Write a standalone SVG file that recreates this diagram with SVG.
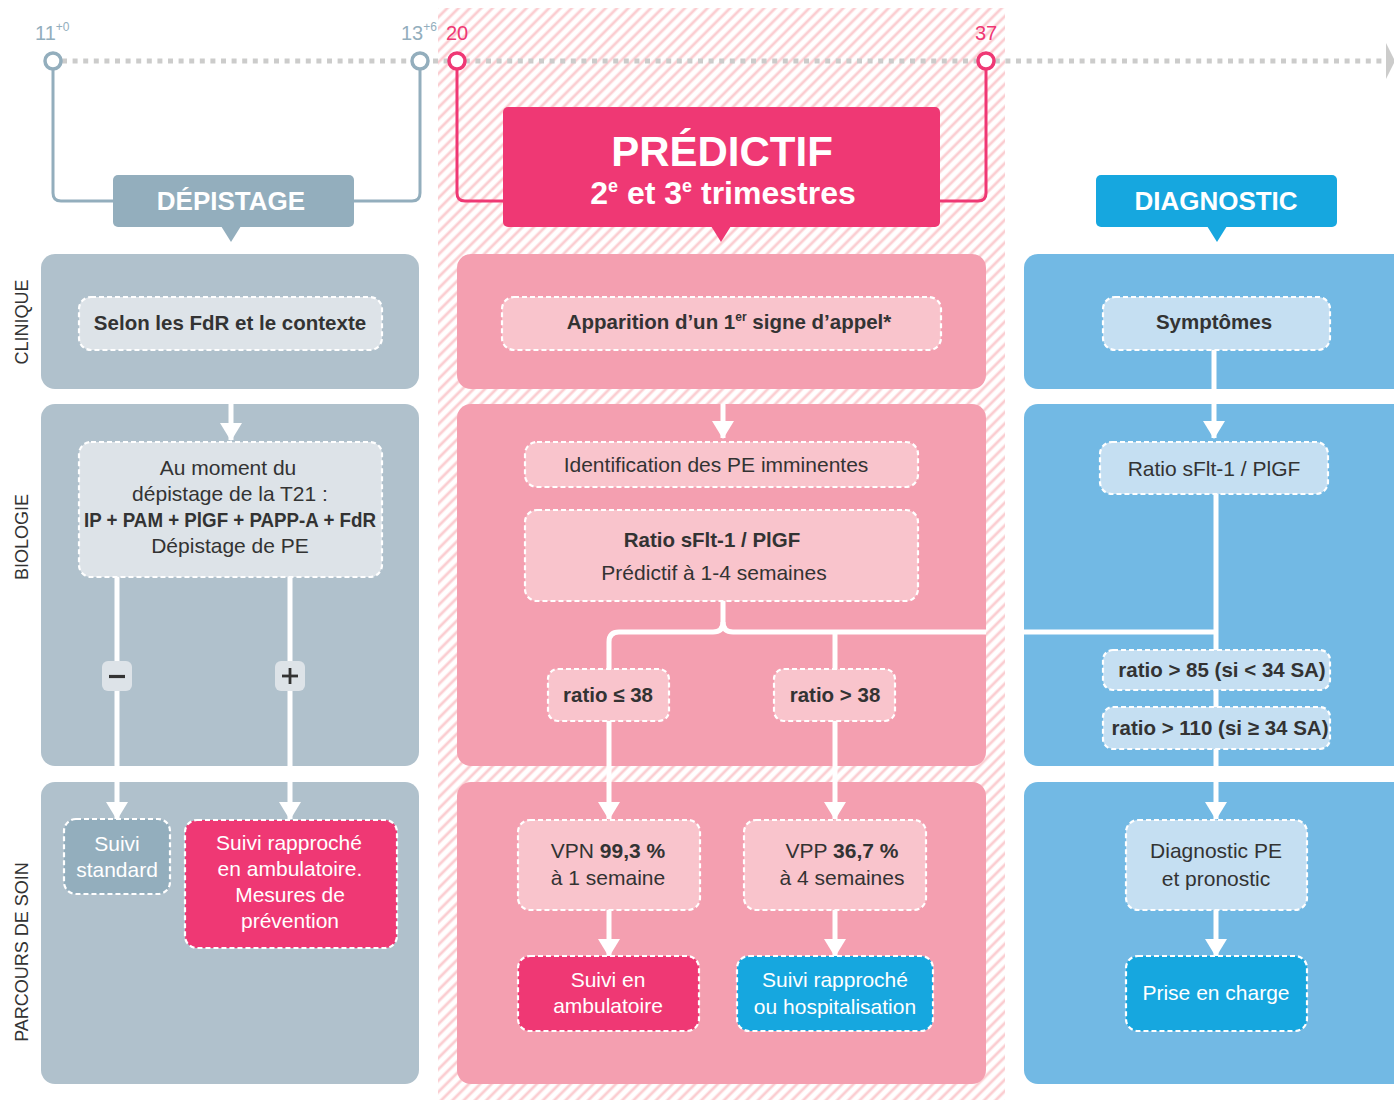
<svg xmlns="http://www.w3.org/2000/svg" width="1394" height="1100" viewBox="0 0 1394 1100">
<defs>
<pattern id="hatch" patternUnits="userSpaceOnUse" width="8" height="8" patternTransform="rotate(45)">
<rect width="8" height="8" fill="#ffffff"/>
<line x1="2" y1="0" x2="2" y2="8" stroke="#fbcdd1" stroke-width="2.8"/>
</pattern>
<marker id="ah" markerUnits="userSpaceOnUse" viewBox="0 0 18 22" refX="17" refY="11" markerWidth="18" markerHeight="22" orient="auto">
<path d="M0,0 L18,11 L0,22 z" fill="#ffffff"/>
</marker>
<marker id="tl" markerUnits="userSpaceOnUse" viewBox="0 0 9 36" refX="0" refY="18" markerWidth="9" markerHeight="36" orient="auto">
<path d="M0,0 L9,18 L0,36 z" fill="#cccccb"/>
</marker>
</defs>
<style>
text{font-family:"Liberation Sans",Arial,sans-serif;}
.reg{font-size:21px;fill:#333333;text-anchor:middle;}
.bld{font-size:20.5px;font-weight:bold;fill:#333333;text-anchor:middle;}
.wht{font-size:21px;fill:#ffffff;text-anchor:middle;}
.hdr{font-size:26px;font-weight:bold;fill:#ffffff;text-anchor:middle;}
.row{font-size:18px;fill:#333333;text-anchor:middle;}
.node{stroke:#ffffff;stroke-width:2.2;stroke-dasharray:5 3;}
.conn{fill:none;stroke:#ffffff;stroke-width:5;}
.tlg{fill:none;stroke:#93aebd;stroke-width:3;}
.tlp{fill:none;stroke:#ef3874;stroke-width:3;}
</style>
<rect width="1394" height="1100" fill="#ffffff"/>
<rect x="438" y="8" width="567" height="1092" fill="url(#hatch)"/>

<g id="timeline">
<line x1="62" y1="61" x2="1386" y2="61" stroke="#cccccb" stroke-width="5" stroke-dasharray="5 5.6" marker-end="url(#tl)"/>
<path class="tlg" d="M53,69 V193 Q53,201 61,201 H113"/>
<path class="tlg" d="M420,69 V193 Q420,201 412,201 H354"/>
<path class="tlp" d="M457,69 V193 Q457,201 465,201 H503"/>
<path class="tlp" d="M986,69 V193 Q986,201 978,201 H940"/>
<circle cx="53" cy="61" r="8" fill="#ffffff" stroke="#93aebd" stroke-width="3.5"/>
<circle cx="420" cy="61" r="8" fill="#ffffff" stroke="#93aebd" stroke-width="3.5"/>
<circle cx="457" cy="61" r="8" fill="#ffffff" stroke="#ef3874" stroke-width="3.5"/>
<circle cx="986" cy="61" r="8" fill="#ffffff" stroke="#ef3874" stroke-width="3.5"/>
<text x="35" y="40" font-size="20" fill="#93aebd">11<tspan font-size="12" dy="-9">+0</tspan></text>
<text x="401" y="40" font-size="20" fill="#93aebd">13<tspan font-size="12" dy="-9">+6</tspan></text>
<text x="446" y="40" font-size="20" fill="#ef3874">20</text>
<text x="975" y="40" font-size="20" fill="#ef3874">37</text>
</g>

<g id="header-depistage">
<rect x="113" y="175" width="241" height="52" rx="5" fill="#93aebd"/>
<polygon points="221,226 241,226 231,242" fill="#93aebd"/>
<text class="hdr" x="231" y="210">DÉPISTAGE</text>
</g>
<g id="header-predictif">
<rect x="503" y="107" width="437" height="120" rx="5" fill="#ef3874"/>
<polygon points="711,226 731,226 721,242" fill="#ef3874"/>
<text x="722" y="166" font-size="42" font-weight="bold" fill="#ffffff" text-anchor="middle">PRÉDICTIF</text>
<text x="723" y="204" font-size="32" font-weight="bold" fill="#ffffff" text-anchor="middle">2<tspan font-size="18" dy="-12">e</tspan><tspan dy="12"> et 3</tspan><tspan font-size="18" dy="-12">e</tspan><tspan dy="12"> trimestres</tspan></text>
</g>
<g id="header-diagnostic">
<rect x="1096" y="175" width="241" height="52" rx="5" fill="#16a7df"/>
<polygon points="1207,226 1227,226 1217,242" fill="#16a7df"/>
<text class="hdr" x="1216" y="210">DIAGNOSTIC</text>
</g>

<g id="row-labels">
<text class="row" transform="translate(28,322) rotate(-90)">CLINIQUE</text>
<text class="row" transform="translate(28,537) rotate(-90)">BIOLOGIE</text>
<text class="row" transform="translate(28,952) rotate(-90)">PARCOURS DE SOIN</text>
</g>

<g id="panels">
<rect x="41" y="254" width="378" height="135" rx="14" fill="#b0c1cc"/>
<rect x="41" y="404" width="378" height="362" rx="14" fill="#b0c1cc"/>
<rect x="41" y="782" width="378" height="302" rx="14" fill="#b0c1cc"/>
<rect x="457" y="254" width="529" height="135" rx="14" fill="#f49fb0"/>
<rect x="457" y="404" width="529" height="362" rx="14" fill="#f49fb0"/>
<rect x="457" y="782" width="529" height="302" rx="14" fill="#f49fb0"/>
<rect x="1024" y="254" width="390" height="135" rx="14" fill="#72b9e4"/>
<rect x="1024" y="404" width="390" height="362" rx="14" fill="#72b9e4"/>
<rect x="1024" y="782" width="390" height="302" rx="14" fill="#72b9e4"/>
</g>

<g id="connectors">
<line class="conn" x1="231" y1="404" x2="231" y2="440" marker-end="url(#ah)"/>
<line class="conn" x1="117" y1="577" x2="117" y2="819" marker-end="url(#ah)"/>
<line class="conn" x1="290" y1="577" x2="290" y2="819" marker-end="url(#ah)"/>
<line class="conn" x1="723" y1="404" x2="723" y2="438" marker-end="url(#ah)"/>
<path class="conn" d="M723,601 V622 Q723,632 713,632 H619 Q609,632 609,642 V670"/>
<path class="conn" d="M723,622 Q723,632 733,632 H986"/>
<line class="conn" x1="835" y1="632" x2="835" y2="670"/>
<line class="conn" x1="609" y1="720" x2="609" y2="819" marker-end="url(#ah)"/>
<line class="conn" x1="835" y1="720" x2="835" y2="819" marker-end="url(#ah)"/>
<line class="conn" x1="609" y1="910" x2="609" y2="956" marker-end="url(#ah)"/>
<line class="conn" x1="835" y1="910" x2="835" y2="956" marker-end="url(#ah)"/>
<line class="conn" x1="1214" y1="350" x2="1214" y2="438" marker-end="url(#ah)"/>
<line class="conn" x1="1024" y1="632" x2="1216" y2="632"/>
<line class="conn" x1="1216" y1="494" x2="1216" y2="819" marker-end="url(#ah)"/>
<line class="conn" x1="1216" y1="910" x2="1216" y2="956" marker-end="url(#ah)"/>
</g>

<g id="badge-minus">
<rect x="102" y="661" width="30" height="30" rx="6" fill="#dde3e8"/>
<line x1="109" y1="676.5" x2="125" y2="676.5" stroke="#333333" stroke-width="3.2"/>
</g>
<g id="badge-plus">
<rect x="275" y="661" width="30" height="30" rx="6" fill="#dde3e8"/>
<line x1="282" y1="676" x2="298" y2="676" stroke="#333333" stroke-width="2.8"/>
<line x1="290" y1="668" x2="290" y2="684" stroke="#333333" stroke-width="2.8"/>
</g>

<g id="n-selon">
<rect class="node" x="79" y="297" width="303" height="53" rx="12" fill="#dde3e8"/>
<text class="bld" x="230" y="330">Selon les FdR et le contexte</text>
</g>
<g id="n-aumoment">
<rect class="node" x="79" y="442" width="303" height="135" rx="12" fill="#dde3e8"/>
<text class="reg" x="228" y="475">Au moment du</text>
<text class="reg" x="230" y="501">dépistage de la T21 :</text>
<text class="bld" x="230" y="527" font-size="19" textLength="292" lengthAdjust="spacingAndGlyphs">IP + PAM + PlGF + PAPP-A + FdR</text>
<text class="reg" x="230" y="553">Dépistage de PE</text>
</g>
<g id="n-suivistandard">
<rect class="node" x="64" y="819" width="106" height="75" rx="12" fill="#93aebd"/>
<text class="wht" x="117" y="851">Suivi</text>
<text class="wht" x="117" y="877">standard</text>
</g>
<g id="n-suivirapproche">
<rect class="node" x="185" y="820" width="212" height="128" rx="12" fill="#ef3874"/>
<text class="wht" x="289" y="850">Suivi rapproché</text>
<text class="wht" x="290" y="876">en ambulatoire.</text>
<text class="wht" x="290" y="902">Mesures de</text>
<text class="wht" x="290" y="928">prévention</text>
</g>

<g id="n-apparition">
<rect class="node" x="502" y="297" width="439" height="53" rx="12" fill="#f9c4cc"/>
<text class="bld" x="729" y="329">Apparition d’un 1<tspan font-size="12" dy="-8">er</tspan><tspan dy="8"> signe d’appel*</tspan></text>
</g>
<g id="n-identification">
<rect class="node" x="525" y="442" width="393" height="45" rx="12" fill="#f9c4cc"/>
<text class="reg" x="716" y="472">Identification des PE imminentes</text>
</g>
<g id="n-ratio-pred">
<rect class="node" x="525" y="510" width="393" height="91" rx="12" fill="#f9c4cc"/>
<text class="bld" x="712" y="547">Ratio sFlt-1 / PlGF</text>
<text class="reg" x="714" y="580">Prédictif à 1-4 semaines</text>
</g>
<g id="n-ratio-le38">
<rect class="node" x="548" y="669" width="121" height="52" rx="10" fill="#f9c4cc"/>
<text class="bld" x="608" y="702">ratio ≤ 38</text>
</g>
<g id="n-ratio-gt38">
<rect class="node" x="774" y="669" width="121" height="52" rx="10" fill="#f9c4cc"/>
<text class="bld" x="835" y="702">ratio &gt; 38</text>
</g>
<g id="n-vpn">
<rect class="node" x="518" y="820" width="182" height="90" rx="12" fill="#f9c4cc"/>
<text class="reg" x="608" y="858">VPN <tspan font-weight="bold">99,3 %</tspan></text>
<text class="reg" x="608" y="885">à 1 semaine</text>
</g>
<g id="n-vpp">
<rect class="node" x="744" y="820" width="182" height="90" rx="12" fill="#f9c4cc"/>
<text class="reg" x="842" y="858">VPP <tspan font-weight="bold">36,7 %</tspan></text>
<text class="reg" x="842" y="885">à 4 semaines</text>
</g>
<g id="n-suivi-amb">
<rect class="node" x="518" y="956" width="181" height="75" rx="12" fill="#ef3874"/>
<text class="wht" x="608" y="987">Suivi en</text>
<text class="wht" x="608" y="1013">ambulatoire</text>
</g>
<g id="n-suivi-hosp">
<rect class="node" x="737" y="956" width="196" height="75" rx="12" fill="#16a7df"/>
<text class="wht" x="835" y="987">Suivi rapproché</text>
<text class="wht" x="835" y="1014">ou hospitalisation</text>
</g>

<g id="n-symptomes">
<rect class="node" x="1103" y="297" width="227" height="53" rx="12" fill="#c5dff2"/>
<text class="bld" x="1214" y="329">Symptômes</text>
</g>
<g id="n-ratio-diag">
<rect class="node" x="1100" y="442" width="228" height="52" rx="12" fill="#c5dff2"/>
<text class="reg" x="1214" y="476">Ratio sFlt-1 / PlGF</text>
</g>
<g id="n-ratio85">
<rect class="node" x="1103" y="650" width="227" height="40" rx="10" fill="#c5dff2"/>
<text class="bld" x="1222" y="677">ratio &gt; 85 (si &lt; 34 SA)</text>
</g>
<g id="n-ratio110">
<rect class="node" x="1103" y="707" width="227" height="42" rx="10" fill="#c5dff2"/>
<text class="bld" x="1220" y="735">ratio &gt; 110 (si ≥ 34 SA)</text>
</g>
<g id="n-diagpe">
<rect class="node" x="1126" y="820" width="181" height="90" rx="12" fill="#c5dff2"/>
<text class="reg" x="1216" y="858">Diagnostic PE</text>
<text class="reg" x="1216" y="886">et pronostic</text>
</g>
<g id="n-prise">
<rect class="node" x="1126" y="956" width="181" height="75" rx="12" fill="#16a7df"/>
<text class="wht" x="1216" y="1000">Prise en charge</text>
</g>
</svg>
